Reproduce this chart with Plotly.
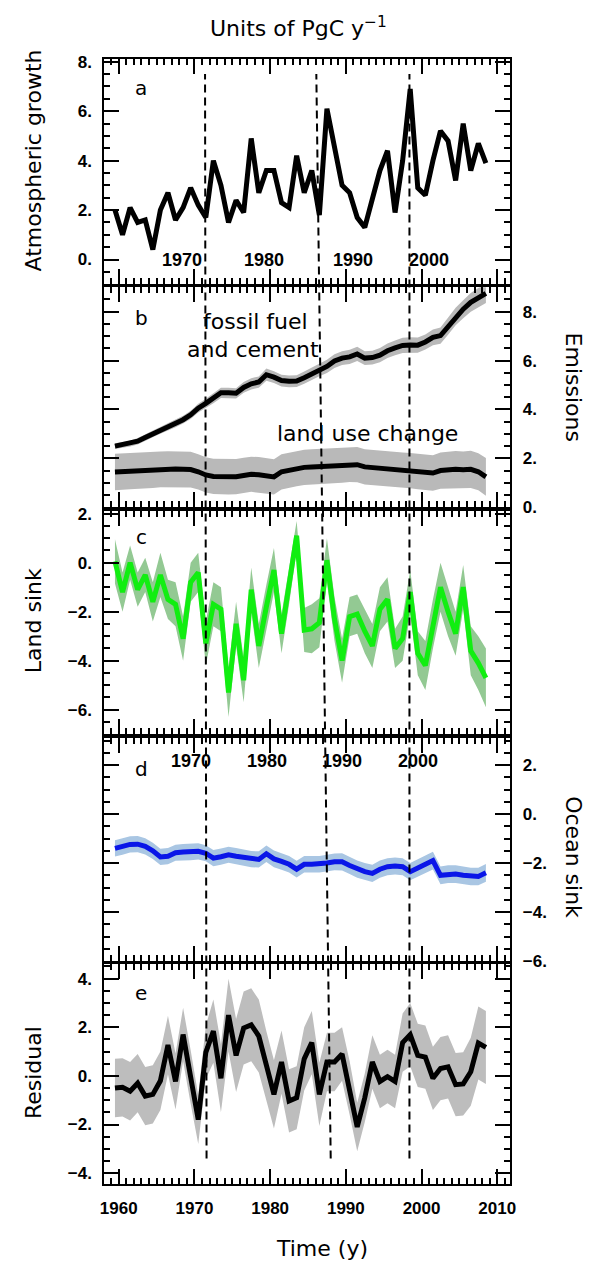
import plotly.graph_objects as go

W, H = 596, 1273

# ---------------- data (PgC per year) ----------------
years = list(range(1959, 2009))

atm_growth = [2.0, 1.0, 2.1, 1.5, 1.6, 0.4, 2.0, 2.7, 1.6, 2.1,
              2.9, 2.2, 1.7, 4.0, 3.0, 1.5, 2.4, 1.9, 4.9, 2.7,
              3.6, 3.6, 2.3, 2.1, 4.2, 2.7, 3.6, 1.8, 6.1, 4.6,
              3.0, 2.7, 1.7, 1.3, 2.4, 3.6, 4.4, 1.9, 4.0, 6.9,
              2.9, 2.6, 4.0, 5.2, 4.8, 3.2, 5.5, 3.6, 4.7, 3.9]

fossil = [2.50, 2.55, 2.60, 2.70, 2.85, 3.00, 3.15, 3.30, 3.42, 3.58,
          3.78, 4.05, 4.25, 4.45, 4.68, 4.68, 4.66, 4.90, 5.05, 5.12,
          5.42, 5.32, 5.18, 5.15, 5.16, 5.30, 5.45, 5.62, 5.76, 5.98,
          6.10, 6.15, 6.27, 6.10, 6.12, 6.22, 6.40, 6.52, 6.62, 6.64,
          6.63, 6.76, 6.95, 7.02, 7.40, 7.80, 8.10, 8.38, 8.58, 8.75]
fossil_unc = [0.12, 0.12, 0.12, 0.13, 0.13, 0.14, 0.14, 0.15, 0.15, 0.16,
              0.17, 0.18, 0.19, 0.20, 0.21, 0.21, 0.21, 0.22, 0.23, 0.23,
              0.25, 0.24, 0.24, 0.24, 0.24, 0.25, 0.25, 0.26, 0.27, 0.28,
              0.28, 0.29, 0.29, 0.28, 0.28, 0.29, 0.30, 0.30, 0.31, 0.31,
              0.31, 0.31, 0.32, 0.33, 0.34, 0.36, 0.37, 0.38, 0.39, 0.40]

land_use = [1.44, 1.46, 1.48, 1.50, 1.52, 1.53, 1.55, 1.56, 1.56, 1.55,
            1.54, 1.45, 1.32, 1.26, 1.25, 1.24, 1.25, 1.30, 1.35, 1.33,
            1.28, 1.24, 1.45, 1.52, 1.58, 1.63, 1.65, 1.67, 1.68, 1.70,
            1.72, 1.75, 1.74, 1.65, 1.62, 1.60, 1.58, 1.55, 1.52, 1.50,
            1.47, 1.42, 1.40, 1.50, 1.53, 1.55, 1.53, 1.55, 1.45, 1.24]
land_use_unc = [0.75, 0.75, 0.74, 0.74, 0.74, 0.74, 0.73, 0.73, 0.73, 0.73,
                0.73, 0.72, 0.72, 0.72, 0.72, 0.72, 0.72, 0.72, 0.72, 0.72,
                0.72, 0.72, 0.72, 0.72, 0.72, 0.72, 0.72, 0.72, 0.72, 0.72,
                0.72, 0.72, 0.72, 0.72, 0.72, 0.72, 0.72, 0.72, 0.72, 0.72,
                0.73, 0.73, 0.73, 0.74, 0.74, 0.75, 0.75, 0.76, 0.76, 0.77]

land_sink = [0.05, -1.2, 0.0, -1.1, -0.5, -1.6, -0.5, -1.5, -1.7, -3.1,
             -0.8, -0.4, -3.3, -1.7, -1.9, -5.3, -2.5, -4.8, -1.1, -3.4,
             -1.8, -0.3, -2.9, -0.9, 1.1, -2.75, -2.7, -2.45, 0.1, -2.3,
             -4.0, -2.2, -2.1, -2.8, -3.4, -1.9, -1.5, -3.5, -3.1, -1.2,
             -3.7, -4.2, -2.5, -1.0, -2.0, -2.9, -1.0, -3.6, -4.1, -4.7]
land_sink_unc = [0.9, 0.8, 0.7, 0.7, 0.7, 0.8, 0.9, 0.8, 0.9, 0.9,
                 0.8, 0.8, 0.9, 0.9, 0.9, 1.0, 0.9, 0.9, 0.9, 0.9,
                 0.9, 0.9, 0.8, 0.8, 0.6, 0.9, 1.0, 1.0, 0.9, 0.9,
                 0.9, 0.8, 0.8, 0.9, 0.9, 0.9, 0.9, 0.8, 0.9, 0.9,
                 0.9, 1.0, 1.0, 1.0, 1.0, 0.9, 0.9, 1.0, 1.1, 1.2]

ocean_sink = [-1.40, -1.33, -1.24, -1.23, -1.32, -1.50, -1.75, -1.72, -1.58, -1.55,
              -1.55, -1.52, -1.60, -1.80, -1.74, -1.66, -1.72, -1.78, -1.84, -1.85,
              -1.62, -1.83, -1.93, -2.05, -2.25, -2.05, -2.05, -2.05, -2.00, -1.95,
              -1.95, -2.10, -2.25, -2.35, -2.42, -2.25, -2.15, -2.12, -2.15, -2.35,
              -2.20, -2.05, -1.90, -2.50, -2.45, -2.45, -2.50, -2.55, -2.55, -2.40]
ocean_sink_unc = [0.33, 0.33, 0.33, 0.33, 0.33, 0.33, 0.33, 0.33, 0.33, 0.33,
                  0.33, 0.33, 0.33, 0.33, 0.33, 0.33, 0.33, 0.33, 0.33, 0.33,
                  0.34, 0.34, 0.34, 0.34, 0.34, 0.34, 0.34, 0.34, 0.34, 0.34,
                  0.35, 0.35, 0.35, 0.35, 0.35, 0.35, 0.35, 0.35, 0.35, 0.35,
                  0.35, 0.35, 0.36, 0.36, 0.36, 0.36, 0.36, 0.36, 0.36, 0.36]

residual = [-0.50, -0.47, -0.63, -0.30, -0.83, -0.76, -0.20, 1.27, -0.23, 1.70,
            -0.05, -1.80, 0.97, 1.84, -0.10, 2.50, 0.84, 1.97, 2.10, 1.64,
            0.44, -0.76, 0.57, -1.03, -0.90, 0.70, 1.37, -0.76, 0.57, 0.57,
            0.90, -0.50, -2.10, -0.90, 0.57, -0.23, -0.03, -0.23, 1.37, 1.70,
            0.84, 0.77, -0.10, 0.30, 0.37, -0.36, -0.33, 0.17, 1.35, 1.17]
residual_unc = [1.2, 1.2, 1.2, 1.2, 1.2, 1.2, 1.2, 1.2, 1.15, 1.1,
                1.1, 1.0, 1.1, 1.3, 1.4, 1.5, 1.5, 1.5, 1.5, 1.5,
                1.4, 1.4, 1.3, 1.3, 1.3, 1.3, 1.3, 1.3, 1.2, 1.2,
                1.1, 1.1, 1.0, 1.0, 1.1, 1.1, 1.1, 1.1, 1.2, 1.3,
                1.3, 1.3, 1.3, 1.3, 1.3, 1.3, 1.3, 1.4, 1.5, 1.5]

# vertical dashed markers: (year at bottom of figure, year at top of figure)
event_years = [(1971.6, 1971.4), (1988.0, 1986.1), (1998.4, 1998.4)]

decade_labels = ["1970", "1980", "1990", "2000"]
growth_label_x = [1968.4, 1979.2, 1990.9, 2001.0]
ocean_label_x = [1969.6, 1979.6, 1989.5, 1999.5]

# ---------------- layout helpers ----------------
MID = 0.5  # annual values plotted at mid-year
xs = [y + MID for y in years]

X_RANGE = [1958.09, 2011.73]
X_DOM = [102 / W, 515 / W]


def py(px):
    return 1 - px / H


# panel pixel extents (top, bottom) and value ranges
panels = {
    "a": dict(top=53, bottom=281, rng=[-1.0, 8.1]),
    "b": dict(top=284, bottom=507, rng=[0.0, 9.0]),
    "c": dict(top=511, bottom=737, rng=[-7.0, 2.1]),
    "d": dict(top=741, bottom=967, rng=[-6.0, 3.1]),
    "e": dict(top=970, bottom=1193, rng=[-4.45, 4.6]),
}

TICK_FONT = dict(family="Liberation Sans", size=17, color="black", weight="bold")
TEXT_FONT = dict(family="DejaVu Sans", size=22, color="black")

fig = go.Figure()


def band(idx, lo, hi, color):
    fig.add_trace(go.Scatter(
        x=xs + xs[::-1], y=hi + lo[::-1], fill="toself", fillcolor=color,
        line=dict(width=0), mode="lines", hoverinfo="skip", showlegend=False,
        xaxis=f"x{idx}" if idx > 1 else "x", yaxis=f"y{idx}" if idx > 1 else "y"))


def line(idx, vals, color, width=5):
    fig.add_trace(go.Scatter(
        x=xs, y=vals, mode="lines", line=dict(color=color, width=width),
        showlegend=False,
        xaxis=f"x{idx}" if idx > 1 else "x", yaxis=f"y{idx}" if idx > 1 else "y"))


# a: atmospheric growth
line(1, atm_growth, "black")

# b: emissions
band(2, [v - u for v, u in zip(fossil, fossil_unc)],
     [v + u for v, u in zip(fossil, fossil_unc)], "#b9b9b9")
band(2, [v - u for v, u in zip(land_use, land_use_unc)],
     [v + u for v, u in zip(land_use, land_use_unc)], "#b9b9b9")
line(2, fossil, "black")
line(2, land_use, "black")

# c: land sink
band(3, [v - u for v, u in zip(land_sink, land_sink_unc)],
     [v + u for v, u in zip(land_sink, land_sink_unc)], "#93c993")
line(3, land_sink, "#11ee11")

# d: ocean sink
band(4, [v - u for v, u in zip(ocean_sink, ocean_sink_unc)],
     [v + u for v, u in zip(ocean_sink, ocean_sink_unc)], "#a9c6e3")
line(4, ocean_sink, "#0a16e8")

# e: residual
band(5, [v - u for v, u in zip(residual, residual_unc)],
     [v + u for v, u in zip(residual, residual_unc)], "#bdbdbd")
line(5, residual, "black")


def fmt(v):
    s = f"{abs(v):g}."
    return ("\u2212" + s) if v < 0 else s


ytick_vals = {
    "a": [0, 2, 4, 6, 8],
    "b": [0, 2, 4, 6, 8],
    "c": [-6, -4, -2, 0, 2],
    "d": [-6, -4, -2, 0, 2],
    "e": [-4, -2, 0, 2, 4],
}
label_side = {"a": "left", "b": "right", "c": "left", "d": "right", "e": "left"}

for i, key in enumerate(["a", "b", "c", "d", "e"], start=1):
    p = panels[key]
    xa = "xaxis" if i == 1 else f"xaxis{i}"
    ya = "yaxis" if i == 1 else f"yaxis{i}"
    fig.layout[xa] = dict(
        domain=X_DOM, range=X_RANGE, anchor="y" if i == 1 else f"y{i}",
        showline=True, linewidth=2, linecolor="black", mirror="ticks",
        ticks="inside", ticklen=15, tickwidth=1.5, tickcolor="black",
        tickmode="linear", tick0=1960, dtick=10,
        minor=dict(ticks="inside", ticklen=6, tickwidth=1.5, tickcolor="black",
                   dtick=1, tick0=1960),
        showticklabels=(key == "e"), tickfont=TICK_FONT, ticklabelstandoff=8,
        showgrid=False, zeroline=False, fixedrange=True,
    )
    tv = ytick_vals[key]
    fig.layout[ya] = dict(
        domain=[py(p["bottom"]), py(p["top"])], range=p["rng"],
        anchor="x" if i == 1 else f"x{i}", side=label_side[key],
        showline=True, linewidth=2, linecolor="black", mirror="ticks",
        ticks="inside", ticklen=15, tickwidth=1.5, tickcolor="black",
        tickmode="array", tickvals=tv, ticktext=[fmt(v) for v in tv],
        minor=dict(ticks="inside", ticklen=6, tickwidth=1.5, tickcolor="black",
                   dtick=0.5, tick0=0),
        tickfont=TICK_FONT, ticklabelstandoff=7,
        showgrid=False, zeroline=False, fixedrange=True,
    )

ann = []


def text(x, y, s, xref="paper", yref="paper", font=TEXT_FONT, angle=0,
         xanchor="center", yanchor="middle"):
    ann.append(dict(x=x, y=y, xref=xref, yref=yref, text=s, showarrow=False,
                    font=font, textangle=angle, xanchor=xanchor, yanchor=yanchor))


# title and axis titles
text(300 / W, py(20), "Units of PgC y<sup>\u22121</sup>")
text(30 / W, py(155), "Atmospheric growth", angle=-90)
text(579 / W, py(385), "Emissions", angle=90)
text(30 / W, py(622), "Land sink", angle=-90)
text(579 / W, py(862), "Ocean sink", angle=90)
text(30 / W, py(1080), "Residual", angle=-90)
text(323 / W, py(1258), "Time (y)")

# panel letters
LETTER_FONT = dict(family="DejaVu Sans", size=20, color="black")
for key, i, yv in [("a", 1, 6.95), ("b", 2, 7.75), ("c", 3, 1.05), ("d", 4, 1.85), ("e", 5, 3.4)]:
    text(1963.0, yv, key, xref="x" if i == 1 else f"x{i}",
         yref="y" if i == 1 else f"y{i}", font=LETTER_FONT)

# emission labels
text(1978.1, 7.58, "fossil fuel", xref="x2", yref="y2")
text(1977.8, 6.45, "and cement", xref="x2", yref="y2")
text(1992.8, 3.02, "land use change", xref="x2", yref="y2")

# decade labels inside panels a and d
YEAR_FONT = dict(family="Liberation Sans", size=18, color="black", weight="bold")
for lab, xv in zip(decade_labels, growth_label_x):
    text(xv, 0.0, lab, xref="x", yref="y", font=YEAR_FONT)
for lab, xv in zip(decade_labels, ocean_label_x):
    text(xv, 2.15, lab, xref="x4", yref="y4", font=YEAR_FONT)

shapes = []
for x_bot, x_top in event_years:
    shapes.append(dict(type="line", xref="x", yref="paper",
                       x0=x_bot, x1=x_top, y0=py(1167), y1=py(68),
                       line=dict(color="black", width=2, dash="8px,5px"),
                       layer="above"))

fig.update_layout(
    width=W, height=H, margin=dict(l=0, r=0, t=0, b=0),
    paper_bgcolor="white", plot_bgcolor="white",
    annotations=ann, shapes=shapes, showlegend=False,
)

fig.write_html("out.html")
